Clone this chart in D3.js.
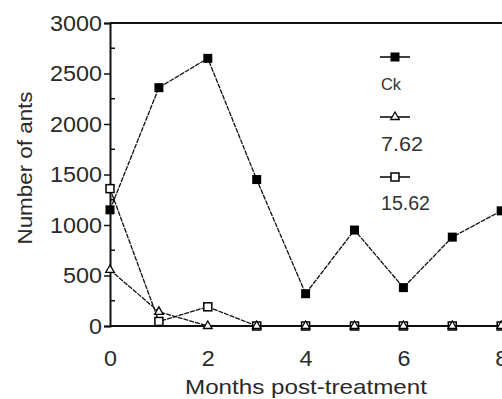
<!DOCTYPE html>
<html>
<head>
<meta charset="utf-8">
<script src="https://cdn.jsdelivr.net/npm/d3@7"></script>
<style>
  body { margin: 0; background: #fff; }
  svg { display: block; font-family: "Liberation Sans", Arial, sans-serif; }
</style>
</head>
<body>
<svg id="chart"></svg>
<script>
const months = [0, 1, 2, 3, 4, 5, 6, 7, 8];
const ck = [1150, 2360, 2650, 1450, 320, 950, 380, 880, 1140];
const dose762 = [555, 140, 0, 0, 0, 0, 0, 0, 0];
const dose1562 = [1360, 45, 190, 0, 0, 0, 0, 0, 0];
const seriesNames = ['Ck', '7.62', '15.62'];
const yTicks = [0, 500, 1000, 1500, 2000, 2500, 3000];
const yMinorTicks = [250, 750, 1250, 1750, 2250, 2750];
const xTicks = [0, 2, 4, 6, 8];

const width = 502, height = 399;
const svg = d3.select('#chart').attr('width', width).attr('height', height);

// plot is cut off on the right in the source, so the domain runs past the edge
const x = d3.scaleLinear().domain([0, 10]).range([110, 599]);
const y = d3.scaleLinear().domain([0, 3000]).range([326, 23]);

// frame: top and bottom
svg.append('line').attr('x1', x(0)).attr('x2', width).attr('y1', y(3000)).attr('y2', y(3000))
  .attr('stroke', '#111').attr('stroke-width', 2);
svg.append('line').attr('x1', x(0)).attr('x2', width).attr('y1', y(0)).attr('y2', y(0))
  .attr('stroke', '#111').attr('stroke-width', 2);

const yAxis = svg.append('g').attr('transform', `translate(${x(0)},0)`)
  .call(d3.axisLeft(y).tickValues(yTicks).tickFormat(d3.format('d')).tickSize(6).tickPadding(2));
yAxis.select('.domain').attr('stroke', '#111').attr('stroke-width', 2);
yAxis.selectAll('.tick line').attr('stroke', '#111').attr('stroke-width', 1.5);
yAxis.selectAll('.tick text')
  .attr('font-size', 22).attr('fill', '#2a2a2a')
  .attr('textLength', d => String(d).length * 13)
  .attr('lengthAdjust', 'spacingAndGlyphs');

svg.append('g').selectAll('line').data(yMinorTicks).enter().append('line')
  .attr('x1', x(0)).attr('x2', x(0) + 5)
  .attr('y1', d => y(d)).attr('y2', d => y(d))
  .attr('stroke', '#111').attr('stroke-width', 1.5);

const xAxis = svg.append('g').attr('transform', `translate(0,${y(0)})`)
  .call(d3.axisBottom(x).tickValues(xTicks).tickSize(0).tickPadding(24));
xAxis.select('.domain').remove();
xAxis.selectAll('.tick text')
  .attr('font-size', 22).attr('fill', '#2a2a2a')
  .attr('textLength', 13).attr('lengthAdjust', 'spacingAndGlyphs');

svg.append('text')
  .attr('x', 306).attr('y', 394)
  .attr('text-anchor', 'middle')
  .attr('font-size', 21).attr('fill', '#2a2a2a')
  .attr('textLength', 242).attr('lengthAdjust', 'spacingAndGlyphs')
  .text('Months post-treatment');

svg.append('text')
  .attr('transform', 'translate(32,168) rotate(-90)')
  .attr('text-anchor', 'middle')
  .attr('font-size', 21).attr('fill', '#2a2a2a')
  .attr('textLength', 153).attr('lengthAdjust', 'spacingAndGlyphs')
  .text('Number of ants');

const line = d3.line().x((d, i) => x(months[i])).y(d => y(d));

function drawMarker(g, kind, cx, cy) {
  if (kind === 'filled') {
    g.append('rect').attr('x', cx - 4.5).attr('y', cy - 4.5).attr('width', 9).attr('height', 9)
      .attr('fill', '#000');
  } else if (kind === 'square') {
    g.append('rect').attr('x', cx - 4).attr('y', cy - 4).attr('width', 8).attr('height', 8)
      .attr('fill', '#fff').attr('stroke', '#000').attr('stroke-width', 1.5);
  } else {
    const t = d3.symbol().type(d3.symbolTriangle).size(32);
    g.append('path').attr('d', t()).attr('transform', `translate(${cx},${cy})`)
      .attr('fill', '#fff').attr('stroke', '#000').attr('stroke-width', 1.3);
  }
}

const series = [
  { name: seriesNames[0], values: ck, kind: 'filled' },
  { name: seriesNames[1], values: dose762, kind: 'triangle' },
  { name: seriesNames[2], values: dose1562, kind: 'square' }
];

// draw in reverse so Ck sits on top
series.slice().reverse().forEach(s => {
  const g = svg.append('g');
  g.append('path').datum(s.values).attr('d', line)
    .attr('fill', 'none').attr('stroke', '#111').attr('stroke-width', 1.3)
    .attr('stroke-dasharray', '5,1');
  s.values.forEach((v, i) => drawMarker(g, s.kind, x(months[i]), y(v)));
});

// legend
const legendY = [57, 117, 177];
const legendTextY = [90, 151, 210];
series.forEach((s, i) => {
  const g = svg.append('g');
  g.append('line').attr('x1', 380).attr('x2', 410).attr('y1', legendY[i]).attr('y2', legendY[i])
    .attr('stroke', '#000').attr('stroke-width', 1.5);
  drawMarker(g, s.kind, 395, legendY[i]);
  g.append('text').attr('x', 381).attr('y', legendTextY[i])
    .attr('font-size', i === 0 ? 17 : 20).attr('fill', '#333')
    .attr('textLength', i === 0 ? 20 : (i === 1 ? 42 : 49)).attr('lengthAdjust', 'spacingAndGlyphs')
    .text(s.name);
});
</script>
</body>
</html>
